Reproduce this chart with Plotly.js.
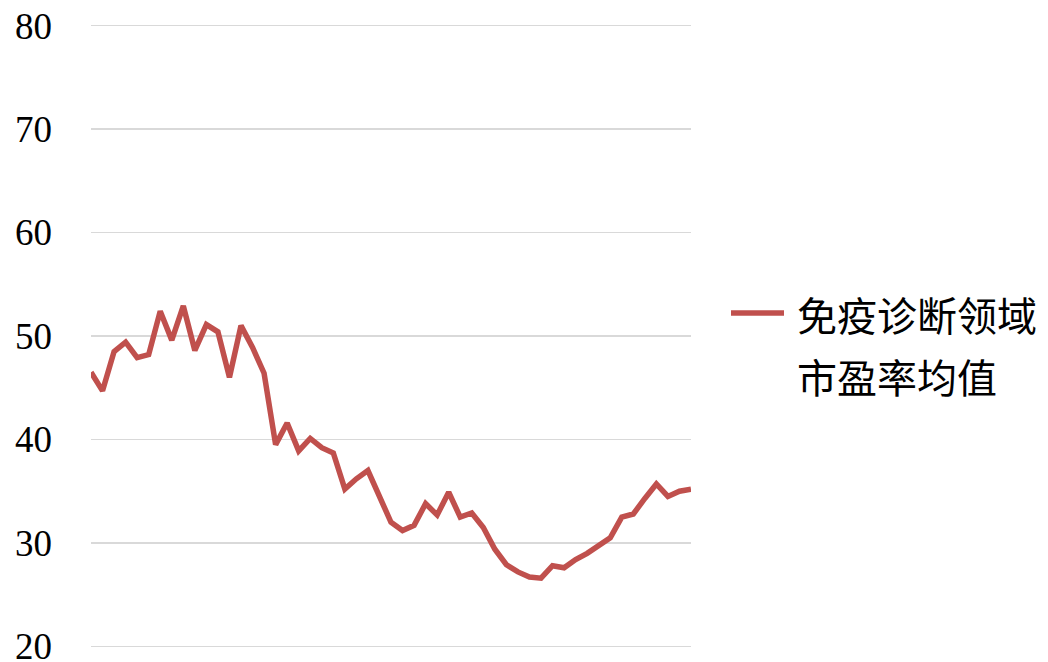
<!DOCTYPE html>
<html>
<head>
<meta charset="utf-8">
<script src="https://cdn.plot.ly/plotly-3.0.1.min.js"></script>
<style>
  html, body { margin: 0; padding: 0; background: #ffffff; }
  #chart { width: 1048px; height: 662px; }
</style>
</head>
<body>
<div id="chart"></div>
<script>
// Average P/E of the immunodiagnostics sector, one value per period
const periods = Array.from({length: 53}, (_, i) => i + 1);
const peAverage = [
  46.5, 44.7, 48.5, 49.4, 47.9, 48.2, 52.4, 49.6, 52.9, 48.6,
  51.1, 50.4, 46.0, 51.0, 48.9, 46.4, 39.5, 41.6, 38.9, 40.1,
  39.2, 38.7, 35.2, 36.2, 37.0, 34.4, 32.0, 31.2, 31.7, 33.8,
  32.7, 34.9, 32.5, 32.9, 31.5, 29.4, 27.9, 27.2, 26.7, 26.6,
  27.8, 27.6, 28.4, 29.0, 29.7, 30.5, 32.5, 32.8, 34.3, 35.7,
  34.5, 35.0, 35.2
];
const seriesName = ['免疫诊断领域', '市盈率均值'];
const yTicks = [20, 30, 40, 50, 60, 70, 80];

const lineColor = '#C0504D';

const trace = {
  x: periods,
  y: peAverage,
  type: 'scatter',
  mode: 'lines',
  name: seriesName.join(''),
  line: { color: lineColor, width: 5.5, shape: 'linear' },
  showlegend: false,
  hoverinfo: 'y'
};

// plot area: 600 px wide, 20..80 spans 621 px; a small pad keeps the
// outer grid lines (20 and 80) from being dropped at the edges
const yPad = 0.15;
const layout = {
  width: 1048,
  height: 662,
  margin: { l: 91, r: 357, t: 24, b: 14 },
  paper_bgcolor: '#ffffff',
  plot_bgcolor: '#ffffff',
  showlegend: false,
  xaxis: {
    type: 'linear',
    range: [1, 53],
    showgrid: false,
    zeroline: false,
    showline: false,
    showticklabels: false,
    ticks: ''
  },
  yaxis: {
    range: [20 - yPad, 80 + yPad],
    tickvals: yTicks,
    ticktext: yTicks.map(String),
    showgrid: true,
    gridcolor: '#D9D9D9',
    gridwidth: 1.5,
    zeroline: false,
    showline: false,
    ticks: '',
    ticklabelstandoff: 38,
    ticklabeloverflow: 'allow',
    tickfont: { family: 'Liberation Serif, Times New Roman, serif', size: 37, color: '#000000' }
  },
  shapes: [
    {
      type: 'line', xref: 'paper', yref: 'paper',
      x0: (731 - 91) / 600, x1: (784 - 91) / 600,
      y0: (648 - 313) / 624, y1: (648 - 313) / 624,
      line: { color: lineColor, width: 5.5 }
    }
  ],
  annotations: [
    {
      xref: 'paper', yref: 'paper',
      x: (795 - 91) / 600, y: (648 - 314) / 624,
      xanchor: 'left', yanchor: 'middle',
      text: seriesName[0], showarrow: false,
      font: { family: 'Noto Sans CJK SC, sans-serif', size: 40, color: '#000000' }
    },
    {
      xref: 'paper', yref: 'paper',
      x: (795 - 91) / 600, y: (648 - 376) / 624,
      xanchor: 'left', yanchor: 'middle',
      text: seriesName[1], showarrow: false,
      font: { family: 'Noto Sans CJK SC, sans-serif', size: 40, color: '#000000' }
    }
  ]
};

Plotly.newPlot('chart', [trace], layout, { displayModeBar: false, staticPlot: true });
</script>
</body>
</html>
